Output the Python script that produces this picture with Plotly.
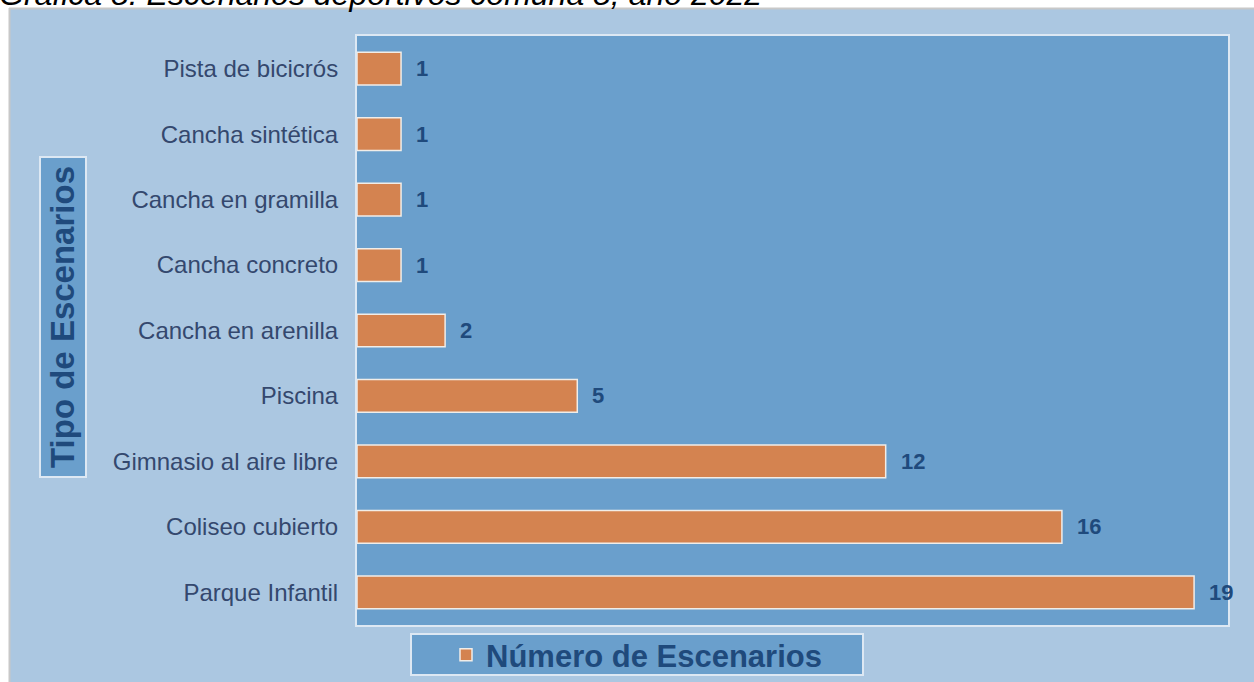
import plotly.graph_objects as go

# Data (top to bottom as shown)
categories = ["Pista de bicicrós", "Cancha sintética", "Cancha en gramilla",
              "Cancha concreto", "Cancha en arenilla", "Piscina",
              "Gimnasio al aire libre", "Coliseo cubierto", "Parque Infantil"]
values = [1, 1, 1, 1, 2, 5, 12, 16, 19]
series_name = "Número de Escenarios"
axis_title = "Tipo de Escenarios"
chart_title = "Gráfica 8. Escenarios deportivos comuna 8, año 2022"

FONT = "Liberation Sans, Arial, sans-serif"
W, H = 1254, 682
L, R, T, B = 357, 1228, 36, 625  # plot area in pixels

def px_x(p):
    return (p - L) / (R - L)

def px_y(p):
    return (B - p) / (B - T)

fig = go.Figure()
fig.add_trace(go.Bar(
    x=values, y=categories, orientation="h", name=series_name,
    marker=dict(color="#d48350", line=dict(color="#f1ede8", width=1.5)),
    showlegend=True,
))

# value labels
for c, v in zip(categories, values):
    fig.add_annotation(x=v, y=c, xref="x", yref="y", text=f"<b>{v}</b>",
                       showarrow=False, xanchor="left", xshift=13,
                       font=dict(family=FONT, size=22, color="#1f4a7c"))

shapes = [
    # white page margins (top and left), with light grey edge
    dict(type="rect", xref="paper", yref="paper", layer="above",
         x0=px_x(-5), x1=px_x(1300), y0=px_y(8), y1=px_y(-20),
         fillcolor="#ffffff", line=dict(width=0)),
    dict(type="rect", xref="paper", yref="paper", layer="above",
         x0=px_x(-20), x1=px_x(9), y0=px_y(700), y1=px_y(-20),
         fillcolor="#ffffff", line=dict(width=0)),
    dict(type="line", xref="paper", yref="paper", layer="above",
         x0=px_x(9), x1=px_x(1300), y0=px_y(8.5), y1=px_y(8.5),
         line=dict(color="#c8c8c8", width=2)),
    dict(type="line", xref="paper", yref="paper", layer="above",
         x0=px_x(9.5), x1=px_x(9.5), y0=px_y(8), y1=px_y(700),
         line=dict(color="#c8c8c8", width=2)),
    # y-axis title box
    dict(type="rect", xref="paper", yref="paper", layer="above",
         x0=px_x(40), x1=px_x(86), y0=px_y(477), y1=px_y(157),
         fillcolor="#6a9fcc", line=dict(color="#dde8f3", width=2)),
    # legend box
    dict(type="rect", xref="paper", yref="paper", layer="above",
         x0=px_x(411), x1=px_x(863), y0=px_y(675), y1=px_y(634),
         fillcolor="#6a9fcc", line=dict(color="#dde8f3", width=2)),
]

fig.add_annotation(xref="paper", yref="paper", x=px_x(63), y=px_y(317),
                   text=f"<b>{axis_title}</b>", textangle=-90, showarrow=False,
                   xanchor="center", yanchor="middle",
                   font=dict(family=FONT, size=33, color="#1f4a7c"))

fig.add_annotation(xref="paper", yref="paper", x=px_x(-3), y=px_y(14),
                   text=f"<i>{chart_title}</i>", showarrow=False,
                   xanchor="left", yanchor="bottom",
                   font=dict(family=FONT, size=32, color="#000000"))

fig.update_layout(
    width=W, height=H,
    margin=dict(l=L, r=W - R, t=T, b=H - B, pad=0, autoexpand=False),
    paper_bgcolor="#abc7e1",
    plot_bgcolor="#6a9fcc",
    bargap=0.5,
    shapes=shapes,
    showlegend=True,
    legend=dict(orientation="h", xref="container", yref="container",
                x=446 / W, y=(H - 655) / H,
                xanchor="left", yanchor="middle",
                bgcolor="rgba(0,0,0,0)", borderwidth=0,
                font=dict(family=FONT, size=31, color="#1f4a7c", weight="bold"),
                itemclick=False),
    xaxis=dict(range=[0, 19.77], showticklabels=False, showgrid=False,
               zeroline=False, showline=True, mirror=True,
               linecolor="#dde8f3", linewidth=2, fixedrange=True),
    yaxis=dict(autorange="reversed", showgrid=False, zeroline=False,
               showline=True, mirror=True, linecolor="#dde8f3", linewidth=2,
               ticks="", ticklabelstandoff=12,
               tickfont=dict(family=FONT, size=24, color="#34486e")),
)

fig.write_html("out.html", config={"displayModeBar": False},
               post_script="document.body.style.margin='0';document.body.style.overflow='hidden';")
